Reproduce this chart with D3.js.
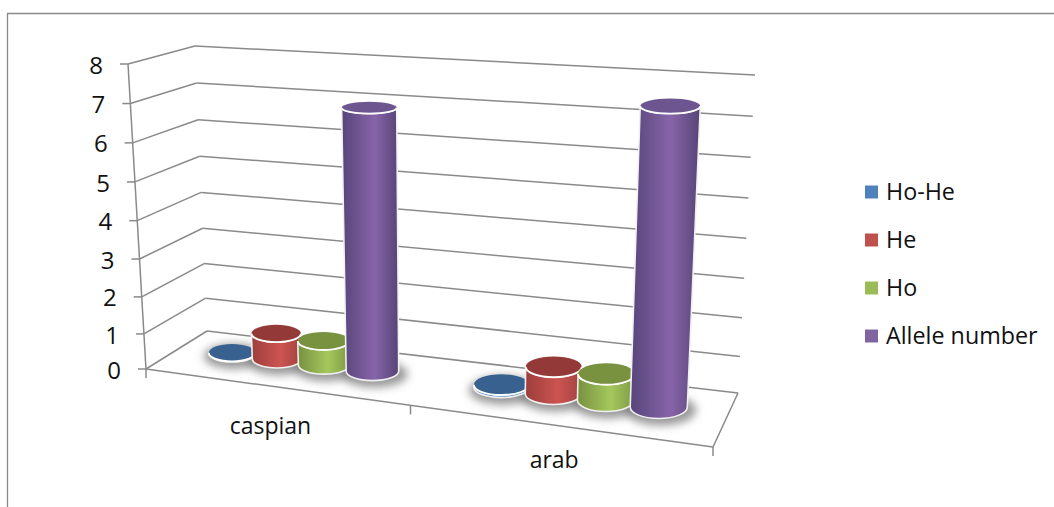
<!DOCTYPE html>
<html><head><meta charset="utf-8">
<script src="https://cdn.jsdelivr.net/npm/d3@7"></script>
<style>html,body{margin:0;padding:0;background:#fff}svg{display:block}text{font-family:"Open Sans",Lato,sans-serif;fill:#111}</style>
</head><body><svg id="c" width="1054" height="507"></svg>
<script>
const categories = ["caspian", "arab"];
const seriesNames = ["Ho-He", "He", "Ho", "Allele number"];
const hoHe = [0.02, 0.08];
const he = [0.75, 0.75];
const ho = [0.7, 0.73];
const alleleNumber = [6.95, 7.5];
const valueTicks = [0, 1, 2, 3, 4, 5, 6, 7, 8];
const seriesValues = [hoHe, he, ho, alleleNumber];

const baseColors = ["#4f81bd", "#c0504d", "#9bbb59", "#8064a2"];
const sideStops = [["#5a8cc8", "#6a9ad2", "#5a8cc8"], ["#9c3e3c", "#cc5451", "#a04341"], ["#779140", "#a5c85d", "#7d9a44"], ["#57457a", "#8764a9", "#564476"]];
const topColors = ["#38618f", "#933a38", "#78923f", "#6d5690"];

// box corners of the 3-D plot frame: [x, y] on the floor (h=0) and the top (h=1)
const frame = {
  frontLeft: [[146, 369], [128, 64]], frontRight: [[713, 447], [728, 110]],
  backLeft: [[207, 331], [195, 46]], backRight: [[738, 393], [755, 75]]
};
const hScale = d3.scalePow().exponent(1.04).domain([0, 8]).range([0, 1]);
const uScale = d3.scalePow().exponent(1.1).domain([0, 1]).range([0, 1]);
const mix = (a, b, t) => a + (b - a) * t;
function project(u, d, v) {
  const h = hScale(v), t = uScale(u), out = [];
  for (const i of [0, 1]) {
    const f = mix(mix(frame.frontLeft[0][i], frame.frontRight[0][i], t), mix(frame.backLeft[0][i], frame.backRight[0][i], t), d);
    const c = mix(mix(frame.frontLeft[1][i], frame.frontRight[1][i], t), mix(frame.backLeft[1][i], frame.backRight[1][i], t), d);
    out.push(mix(f, c, h));
  }
  return out;
}
const catScale = d3.scaleBand().domain(categories).range([0, 1]);
const serScale = d3.scaleBand().domain(seriesNames).range([0, catScale.bandwidth()]).paddingInner(0).paddingOuter(0.78);

const svg = d3.select("#c");
const defs = svg.append("defs");
const blur = defs.append("filter").attr("id", "soft").attr("x", "-40%").attr("y", "-60%").attr("width", "180%").attr("height", "220%");
blur.append("feGaussianBlur").attr("stdDeviation", 4);
sideStops.forEach((s, i) => {
  const g = defs.append("linearGradient").attr("id", "side" + i);
  g.append("stop").attr("offset", "0").attr("stop-color", s[0]);
  g.append("stop").attr("offset", "0.58").attr("stop-color", s[1]);
  g.append("stop").attr("offset", "1").attr("stop-color", s[2]);
});

const GRID = "#8a8a8a";
const line = (g, a, b, w = 1.5) => g.append("line").attr("x1", a[0]).attr("y1", a[1]).attr("x2", b[0]).attr("y2", b[1]).attr("stroke", GRID).attr("stroke-width", w);

// outer chart border
svg.append("path").attr("d", "M7.5,507V13.5H1054").attr("fill", "none").attr("stroke", GRID).attr("stroke-width", 1.3);

// walls and gridlines
const grid = svg.append("g");
valueTicks.forEach(v => {
  const fl = project(0, 0, v), bl = project(0, 1, v), br = project(1, 1, v);
  line(grid, fl, bl); line(grid, bl, br);
  line(grid, [fl[0] - 8, fl[1]], fl);
  svg.append("text").attr("x", fl[0] - 25).attr("y", fl[1]).attr("dy", "0.4em").attr("text-anchor", "end").attr("font-size", 24).text(v);
});
line(grid, project(0, 0, 0), project(0, 0, 8));
line(grid, project(0, 0, 0), project(1, 0, 0));
line(grid, project(1, 0, 0), project(1, 1, 0));
[0, 0.5, 1].forEach(u => { const p = project(u, 0, 0); line(grid, p, [p[0], p[1] + 9]); });

// cylinders
const DEPTH = 0.58, RADIUS_D = 0.22;
function geom(u, v, r) {
  const c = project(u, DEPTH, v);
  const rx = (project(u + r, DEPTH, v)[0] - project(u - r, DEPTH, v)[0]) / 2;
  const ry = Math.abs(project(u, DEPTH + RADIUS_D, v)[1] - project(u, DEPTH - RADIUS_D, v)[1]) / 2;
  return { c, rx, ry };
}
const marks = [];
categories.forEach((cat, ci) => seriesNames.forEach((s, si) => {
  marks.push({ u: catScale(cat) + serScale(s) + serScale.bandwidth() / 2, v: seriesValues[si][ci], si });
}));
const r = serScale.bandwidth() / 2 * 1.07;
const shadows = svg.append("g").attr("filter", "url(#soft)");
marks.forEach(m => {
  const b = geom(m.u, 0, r);
  shadows.append("ellipse").attr("cx", b.c[0] + 2).attr("cy", b.c[1] + 3).attr("rx", b.rx + 7).attr("ry", b.ry + 4).attr("fill", "#777").attr("opacity", 0.75);
});
const bars = svg.append("g");
marks.forEach(m => {
  const b = geom(m.u, 0, r), t = geom(m.u, m.v, r);
  const d = `M${t.c[0] - t.rx},${t.c[1]}L${b.c[0] - b.rx},${b.c[1]}A${b.rx},${b.ry} 0 0 0 ${b.c[0] + b.rx},${b.c[1]}L${t.c[0] + t.rx},${t.c[1]}A${t.rx},${t.ry} 0 0 1 ${t.c[0] - t.rx},${t.c[1]}Z`;
  bars.append("path").attr("d", d).attr("fill", `url(#side${m.si})`).attr("stroke", "#f0f0f0").attr("stroke-width", 1.6);
  bars.append("ellipse").attr("cx", t.c[0]).attr("cy", t.c[1]).attr("rx", t.rx).attr("ry", t.ry).attr("fill", topColors[m.si]);
  bars.append("path").attr("d", `M${t.c[0] - t.rx},${t.c[1]}A${t.rx},${t.ry} 0 0 0 ${t.c[0] + t.rx},${t.c[1]}`).attr("fill", "none").attr("stroke", "#fff").attr("stroke-width", 1.8);
});

// category labels
categories.forEach(cat => {
  const u = catScale(cat) + catScale.bandwidth() / 2, p = project(u, 0, 0);
  svg.append("text").attr("x", p[0] + 6 * (0.5 - u) * 2 - 2).attr("y", p[1] + 43 - 12 * u).attr("dy", "0.35em").attr("text-anchor", "middle").attr("font-size", 23).text(cat);
});

// legend
const legendY = d3.scalePoint().domain(seriesNames).range([192, 336]);
seriesNames.forEach((s, i) => {
  const y = legendY(s);
  svg.append("rect").attr("x", 865).attr("y", y - 6.5).attr("width", 13).attr("height", 13).attr("fill", baseColors[i]);
  svg.append("text").attr("x", 886).attr("y", y).attr("dy", "0.35em").attr("font-size", 23.3).text(s);
});
</script></body></html>
